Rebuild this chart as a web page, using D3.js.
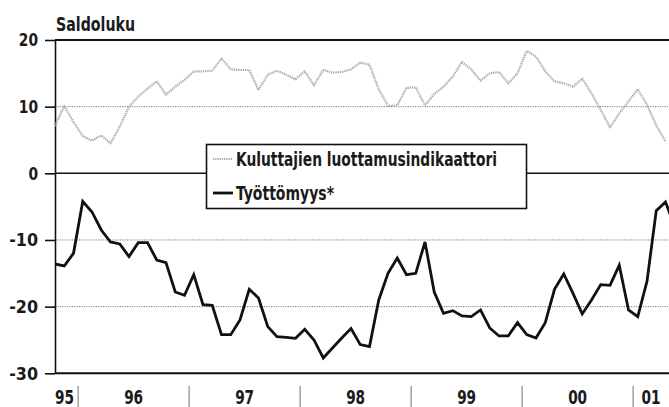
<!DOCTYPE html>
<html><head><meta charset="utf-8">
<script src="https://cdn.jsdelivr.net/npm/d3@7"></script>
<style>
body{margin:0;background:#fff;}
svg text{font-family:"Liberation Sans Narrow","DejaVu Sans Condensed",sans-serif;fill:#1a1a1a;}
</style></head><body>
<svg id="c" width="669" height="407"></svg>
<script>
// Monthly data, index 0 = October 1995
const yearLabels = ["95","96","97","98","99","00","01"];
const yearJanIndex = [-9, 3, 15, 27, 39, 51, 63];
const yTicks = [20, 10, 0, -10, -20, -30];
const seriesNames = ["Kuluttajien luottamusindikaattori", "Työttömyys*"];
const confidence = [
  7.1, 10.1, 7.7, 5.6, 4.9, 5.7, 4.5, 7.0, 10.0, 11.5, 12.7, 13.8,
  11.8, 13.0, 14.0, 15.3, 15.3, 15.4, 17.2, 15.6, 15.5, 15.5, 12.5, 14.8,
  15.4, 14.8, 14.1, 15.3, 13.2, 15.5, 15.1, 15.2, 15.6, 16.6, 16.3, 12.6,
  10.1, 10.2, 12.8, 12.9, 10.2, 11.9, 13.0, 14.5, 16.7, 15.6, 13.9, 15.0,
  15.2, 13.5, 15.0, 18.4, 17.5, 15.3, 13.8, 13.5, 13.0, 14.2, 12.0, 9.5,
  6.9, 9.0, 10.8, 12.6, 10.3, 7.2, 4.8
];
const unemployment = [
  -13.6, -13.9, -12.0, -4.2, -5.8, -8.5, -10.3, -10.6, -12.5, -10.4, -10.4, -13.0,
  -13.4, -17.8, -18.3, -15.2, -19.7, -19.8, -24.2, -24.2, -22.0, -17.4, -18.7, -23.0,
  -24.5, -24.6, -24.75, -23.4, -25.0, -27.7, -26.2, -24.7, -23.3, -25.7, -26.0, -19.0,
  -15.0, -12.7, -15.2, -15.0, -10.3, -17.8, -21.0, -20.6, -21.4, -21.5, -20.5, -23.2,
  -24.4, -24.4, -22.4, -24.2, -24.7, -22.4, -17.4, -15.1, -18.0, -21.1, -19.0, -16.7,
  -16.8, -13.8, -20.5, -21.5, -16.2, -5.6, -4.3, -8.0
];

const W = 669, H = 407;
const pLeft = 55, pRight = 669, pTop = 40, pBottom = 373.3;
const FONT = '"Liberation Sans Narrow","DejaVu Sans Condensed",sans-serif';
const svg = d3.select("#c");
const x = d3.scaleLinear().domain([0, 66]).range([55, 665.5]);
const y = d3.scaleLinear().domain([-30, 20]).range([pBottom, pTop]);

svg.append("defs").append("clipPath").attr("id","clip")
  .append("rect").attr("x", pLeft).attr("y", 0).attr("width", pRight-pLeft).attr("height", H);

// grid lines
const grid = svg.append("g");
yTicks.forEach(v => {
  const solid = (v === 20 || v === -30 || v === 0);
  grid.append("line")
    .attr("x1", pLeft).attr("x2", pRight)
    .attr("y1", y(v)).attr("y2", y(v))
    .attr("stroke", solid ? "#111" : "#777")
    .attr("stroke-width", solid ? (v === 0 ? 1.6 : 2) : 1)
    .attr("stroke-dasharray", solid ? null : "1.2,1.2");
});

// y axis
const ax = svg.append("g").attr("transform", `translate(${pLeft},0)`)
  .call(d3.axisLeft(y).tickValues(yTicks).tickSize(10).tickSizeOuter(0).tickPadding(7).tickFormat(d => String(d)));
ax.select(".domain").attr("stroke", "#111").attr("stroke-width", 1.6);
ax.selectAll(".tick line").attr("stroke", "#111").attr("stroke-width", 1.6);
ax.selectAll(".tick text").attr("font-size", 18).attr("font-weight", "bold")
  .style("font-family", FONT).attr("fill", "#1a1a1a")
  .attr("textLength", d => String(d).length * 9.6).attr("lengthAdjust", "spacingAndGlyphs");

// title
svg.append("text").attr("x", 56).attr("y", 31).attr("font-size", 20).attr("font-weight", "bold")
  .attr("textLength", 79).attr("lengthAdjust", "spacingAndGlyphs").text("Saldoluku");

// x axis year separators and labels
const xEnd = x.invert(pRight);
yearLabels.forEach((lab, i) => {
  const b0 = yearJanIndex[i] - 0.5;
  const b1 = i < yearLabels.length - 1 ? yearJanIndex[i+1] - 0.5 : xEnd;
  const a = Math.max(b0, 0), b = Math.min(b1, xEnd);
  svg.append("text").attr("x", x((a+b)/2) - (i === 0 ? 2 : 0)).attr("y", 404)
    .attr("text-anchor", "middle").attr("font-size", 19).attr("font-weight", "bold")
    .attr("textLength", 19).attr("lengthAdjust", "spacingAndGlyphs").text(lab);
  if (i > 0) {
    svg.append("line").attr("x1", x(b0)).attr("x2", x(b0)).attr("y1", 386).attr("y2", 407)
      .attr("stroke", "#888").attr("stroke-width", 1.2);
  }
});

// lines
const lineGen = d3.line().x((d,i) => x(i)).y(d => y(d));
const plot = svg.append("g").attr("clip-path", "url(#clip)");
plot.append("path").datum(confidence).attr("d", lineGen)
  .attr("fill", "none").attr("stroke", "#aaa").attr("stroke-width", 2.2)
  .attr("stroke-dasharray", "1.3,0.9").attr("stroke-linejoin", "round");
plot.append("path").datum(unemployment).attr("d", lineGen)
  .attr("fill", "none").attr("stroke", "#111").attr("stroke-width", 2.8)
  .attr("stroke-linejoin", "miter");

// legend
const lg = svg.append("g");
lg.append("rect").attr("x", 206.5).attr("y", 144.5).attr("width", 320).attr("height", 64)
  .attr("fill", "#fff").attr("stroke", "#111").attr("stroke-width", 1.6);
lg.append("line").attr("x1", 213).attr("x2", 233).attr("y1", 159).attr("y2", 159)
  .attr("stroke", "#aaa").attr("stroke-width", 2.2).attr("stroke-dasharray", "1.3,0.9");
lg.append("line").attr("x1", 213).attr("x2", 233).attr("y1", 193).attr("y2", 193)
  .attr("stroke", "#111").attr("stroke-width", 2.8);
lg.append("text").attr("x", 236).attr("y", 166).attr("font-size", 20).attr("font-weight", "bold")
  .attr("textLength", 261).attr("lengthAdjust", "spacingAndGlyphs").text(seriesNames[0]);
lg.append("text").attr("x", 236).attr("y", 200).attr("font-size", 20).attr("font-weight", "bold")
  .attr("textLength", 98).attr("lengthAdjust", "spacingAndGlyphs").text(seriesNames[1]);
</script>
</body></html>
